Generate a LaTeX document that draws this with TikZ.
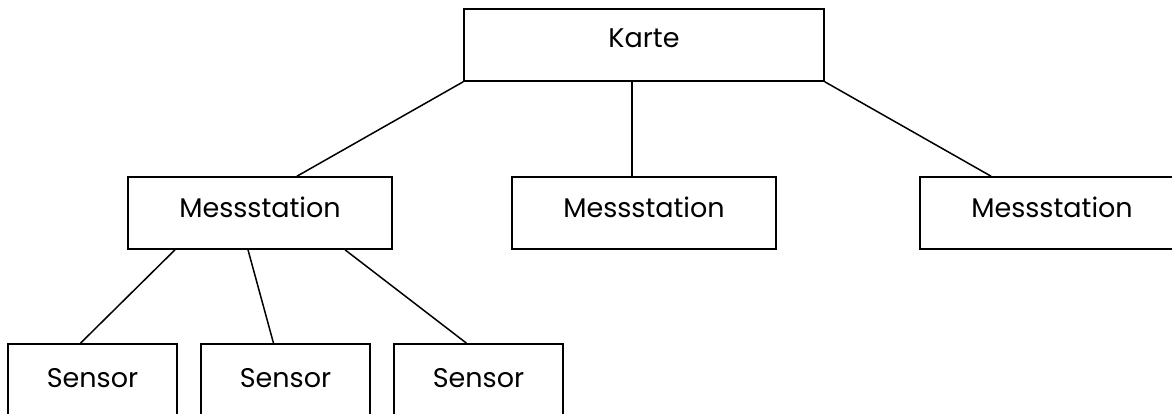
\documentclass[tikz,border=0pt]{standalone}
\usepackage{fontspec}
\setmainfont{Poppins}
\usetikzlibrary{calc}

\tikzset{
  kasten/.style={draw=black, line width=1.6pt, inner sep=0pt, minimum height=72pt,
    font=\fontsize{27}{30}\selectfont, text height=24pt, text depth=14pt},
  verbindung/.style={black, line width=1.5pt}
}

\begin{document}
\begin{tikzpicture}[x=1pt,y=-1pt]
\useasboundingbox (0,0) rectangle (1172,414);

\node[kasten, minimum width=360pt, text height=22pt, text depth=16pt] (karte) at (644,45) {Karte};

\node[kasten, minimum width=264pt] (station1) at (260,213) {Messstation};
\node[kasten, minimum width=264pt] (station2) at (644,213) {Messstation};
\node[kasten, minimum width=264pt] (station3) at (1052,213) {Messstation};

\node[kasten, minimum width=169pt, minimum height=86pt, text height=22pt, text depth=22pt] (sensor1) at (92.5,387) {Sensor};
\node[kasten, minimum width=169pt, minimum height=86pt, text height=22pt, text depth=22pt] (sensor2) at (285.5,387) {Sensor};
\node[kasten, minimum width=169pt, minimum height=86pt, text height=22pt, text depth=22pt] (sensor3) at (478.5,387) {Sensor};

% Karte -> Messstationen
\draw[verbindung] (karte.south west) -- ($(station1.north)+(37,0)$);
\draw[verbindung] ($(karte.south)+(-12,0)$) coordinate (k2) -- (k2 |- station2.north);
\draw[verbindung] (karte.south east) -- ($(station3.north)+(-61,0)$);

% Messstation -> Sensoren
\draw[verbindung] ($(station1.south)+(-85,0)$) -- ($(sensor1.north)+(-12,0)$);
\draw[verbindung] ($(station1.south)+(-12,0)$) -- ($(sensor2.north)+(-12,0)$);
\draw[verbindung] ($(station1.south)+(85,0)$) -- ($(sensor3.north)+(-12,0)$);

\end{tikzpicture}
\end{document}
